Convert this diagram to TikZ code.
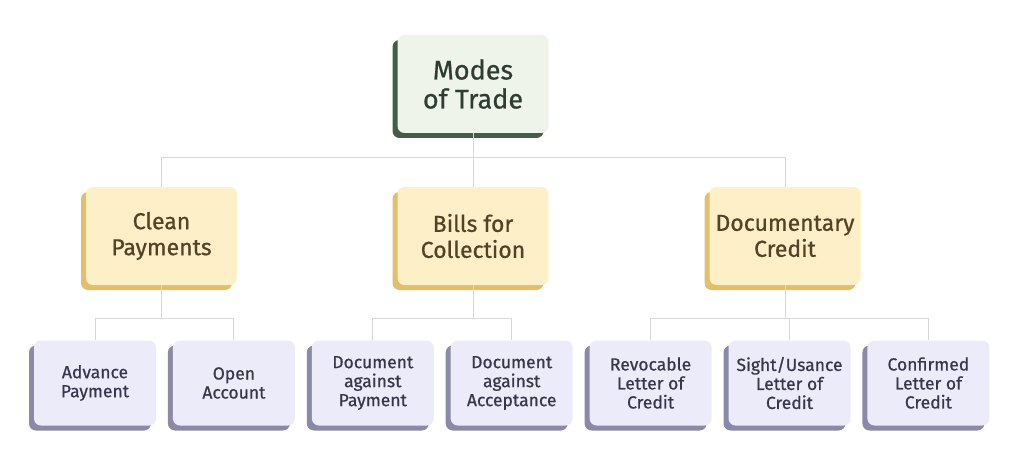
\documentclass[tikz,border=0pt]{standalone}
\usepackage{fontspec}
\setmainfont{Fira Sans}[FakeBold=0.7]
\usepackage{tikz}
\usetikzlibrary{positioning}
\usetikzlibrary{shadows}
\definecolor{mytopfill}{RGB}{238,244,234}
\definecolor{mytopshade}{RGB}{66,94,68}
\definecolor{mytoptext}{RGB}{45,62,46}
\definecolor{mymidfill}{RGB}{253,239,200}
\definecolor{mymidshade}{RGB}{228,190,105}
\definecolor{mymidtext}{RGB}{85,66,38}
\definecolor{mylowfill}{RGB}{236,235,250}
\definecolor{mylowshade}{RGB}{138,137,168}
\definecolor{mylowtext}{RGB}{55,55,75}
\definecolor{mylink}{RGB}{216,216,216}
\tikzset{
  tradebox/.style args={#1,#2,#3}{shape=rectangle,rounded corners=7pt,inner sep=0pt,align=center,fill=#1,text=#3,drop shadow={shadow xshift=-5pt,shadow yshift=-5pt,fill=#2,opacity=1}},
  topbox/.style={tradebox={mytopfill,mytopshade,mytoptext},minimum width=151pt,minimum height=98pt,font=\fontsize{27}{29}\selectfont},
  midbox/.style={tradebox={mymidfill,mymidshade,mymidtext},minimum width=151pt,minimum height=98pt,font=\fontsize{23}{26}\selectfont},
  lowbox/.style={tradebox={mylowfill,mylowshade,mylowtext},minimum width=122pt,minimum height=85pt,font=\fontsize{17.5}{19}\selectfont},
  tradelink/.style={draw=mylink,line width=1pt}
}

\begin{document}
\begin{tikzpicture}[x=1pt, y=-1pt]
\useasboundingbox (0,0) rectangle (1024,465);
% top level
\node[topbox] (modes) at (473,84) {Modes\\of Trade};
% middle level
\node[midbox] (clean) at (161.5,236) {Clean\\Payments};
\node[midbox] (bills) at (473,236) {Bills for\\Collection};
\node[midbox] (docu)  at (785,236) {Documentary\\Credit};
% lower level
\node[lowbox] (advance) at (95,383) {Advance\\Payment};
\node[lowbox, right=16.5pt of advance] (open) {Open\\Account};
\node[lowbox, right=16.5pt of open] (dap) {Document\\against\\Payment};
\node[lowbox, right=16.5pt of dap] (daa) {Document\\against\\Acceptance};
\node[lowbox, right=16.5pt of daa] (revoc) {Revocable\\Letter of\\Credit};
\node[lowbox, right=16.5pt of revoc] (sight) {Sight/Usance\\Letter of\\Credit};
\node[lowbox, right=16.5pt of sight] (confirm) {Confirmed\\Letter of\\Credit};
% connectors
\draw[tradelink] (modes.south) -- ++(0,24) coordinate (modesjoin);
\draw[tradelink] (modesjoin) -| (clean.north);
\draw[tradelink] (modesjoin) -| (docu.north);
\draw[tradelink] (modesjoin) -- (bills.north);
\draw[tradelink] (clean.south) -- ++(0,33) coordinate (cleanjoin);
\draw[tradelink] (cleanjoin) -| (advance.north);
\draw[tradelink] (cleanjoin) -| (open.north);
\draw[tradelink] (bills.south) -- ++(0,33) coordinate (billsjoin);
\draw[tradelink] (billsjoin) -| (dap.north);
\draw[tradelink] (billsjoin) -| (daa.north);
\draw[tradelink] (docu.south) -- ++(0,33) coordinate (docujoin);
\draw[tradelink] (docujoin) -| (revoc.north);
\draw[tradelink] (docujoin) -| (sight.north);
\draw[tradelink] (docujoin) -| (confirm.north);
\end{tikzpicture}
\end{document}
